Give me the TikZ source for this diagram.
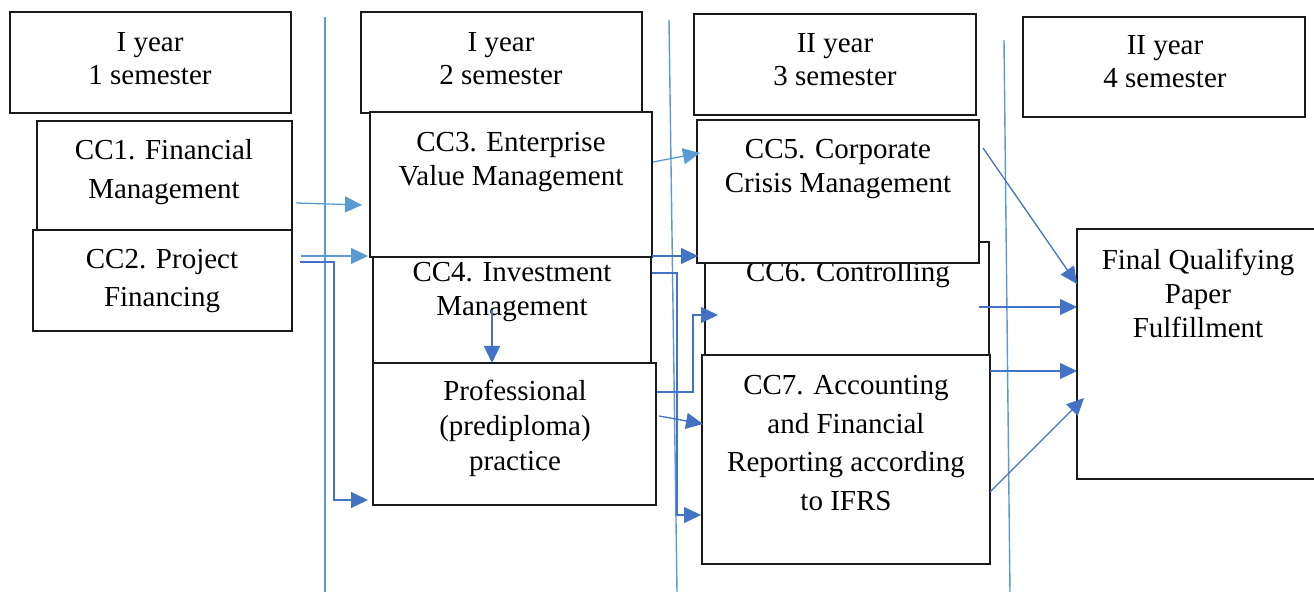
\documentclass[tikz,border=0pt]{standalone}
\usepackage{fontspec}
\setmainfont{Liberation Serif}
\usetikzlibrary{arrows.meta}
\definecolor{lblue}{HTML}{5B9BD5}
\definecolor{dblue}{HTML}{4472C4}
\definecolor{boxline}{HTML}{1A1A1A}
\begin{document}
\begin{tikzpicture}[x=0.5pt,y=-0.5pt,
  box/.style args={#1x#2}{draw=boxline, line width=0.75pt, fill=white, inner sep=0pt, outer sep=0pt,
     minimum width={#1*0.5pt}, minimum height={#2*0.5pt}},
  txt/.style={align=center, inner sep=0pt, font=\fontsize{14.5}{#1}\selectfont},
  vline/.style={draw=lblue, line width=0.7pt},
  larrow/.style={draw=lblue, line width=0.65pt, -{Triangle[length=8.5pt,width=8pt]}},
  darrow/.style={draw=dblue, line width=0.65pt, -{Triangle[length=8.5pt,width=8pt]}}]
\useasboundingbox (0,0) rectangle (1314,592);
\clip (0,0) rectangle (1314,592);
\fill[white] (0,0) rectangle (1314,592);
% headers
\node[box=281x101] (h1) at (150.5,62.5) {};
\node[txt=16.5] (h1t) at (150,59) {I year\\1 semester};
\node[box=281x101] (h2) at (501.5,62.5) {};
\node[txt=16.5] (h2t) at (501,59) {I year\\2 semester};
\node[box=282x101] (h3) at (835,64.5) {};
\node[txt=16.5] (h3t) at (835,60) {II year\\3 semester};
\node[box=282x100] (h4) at (1164,67) {};
\node[txt=16.5] (h4t) at (1165,62) {II year\\4 semester};
% first semester
\node[box=255x110] (cc1) at (164.5,176) {};
\node[txt=19.5] (cc1t) at (164,172) {CC1. Financial\\Management};
\node[box=259x101] (cc2) at (162.5,280.5) {};
\node[txt=19] (cc2t) at (162,281) {CC2. Project\\Financing};
% second semester
\node[box=278x120] (cc4) at (512,317) {};
\node[txt=17] (cc4t) at (512,292) {CC4. Investment\\Management};
\node[box=282x145] (cc3) at (511,184.5) {};
\node[txt=17] (cc3t) at (511,162) {CC3. Enterprise\\Value Management};
\node[box=283x142] (prof) at (514.5,434) {};
\node[txt=17.5] (proft) at (515,428) {Professional\\(prediploma)\\practice};
% third semester
\node[box=284x128] (cc6) at (847,306) {};
\node[txt=17] (cc6t) at (848,275) {CC6. Controlling};
\node[box=282x143] (cc5) at (838,191.5) {};
\node[txt=17] (cc5t) at (838,169) {CC5. Corporate\\Crisis Management};
\node[box=288x209] (cc7) at (846,459.5) {};
\node[txt=19.3] (cc7t) at (846,443) {CC7. Accounting\\and Financial\\Reporting according\\to IFRS};
% final
\node[box=250x250] (fin) at (1202,354) {};
\node[txt=17] (fint) at (1198,293) {Final Qualifying\\Paper\\Fulfillment};
% vertical separators
\coordinate (v1a) at (325,17); \coordinate (v1b) at (325,592);
\coordinate (v2a) at (669,20); \coordinate (v2b) at (677,592);
\coordinate (v3a) at (1004,40); \coordinate (v3b) at (1010,592);
\draw[vline] (v1a) -- (v1b);
\draw[vline] (v2a) -- (v2b);
\draw[vline] (v3a) -- (v3b);
% connector end points
\coordinate (a1s) at (296,203); \coordinate (a1e) at (362,205);
\coordinate (a2s) at (301,256); \coordinate (a2e) at (368,256);
\coordinate (a3s) at (300,262); \coordinate (a3e) at (368,500);
\coordinate (a4s) at (653,162); \coordinate (a4e) at (700,153);
\coordinate (a5s) at (652,256); \coordinate (a5e) at (698,256);
\coordinate (a6s) at (652,273); \coordinate (a6e) at (701,515);
\coordinate (a7s) at (492,310); \coordinate (a7e) at (492,363);
\coordinate (a8s) at (657,392); \coordinate (a8e) at (718,315);
\coordinate (a9s) at (659,416); \coordinate (a9e) at (703,424);
\coordinate (a10s) at (983,148); \coordinate (a10e) at (1077,284);
\coordinate (a11s) at (979,307); \coordinate (a11e) at (1077,307);
\coordinate (a12s) at (990,371); \coordinate (a12e) at (1077,371);
\coordinate (a13s) at (990,492); \coordinate (a13e) at (1084,398);
% connectors
\draw[larrow] (a1s) -- (a1e);
\draw[larrow] (a2s) -- (a2e);
\draw[darrow] (a3s) -- (334,262) -- (334,500) -- (a3e);
\draw[larrow] (a4s) -- (a4e);
\draw[darrow] (a5s) -- (a5e);
\draw[darrow] (a6s) -- (677,273) -- (677,515) -- (a6e);
\draw[darrow] (a7s) -- (a7e);
\draw[darrow] (a8s) -- (693,392) -- (693,315) -- (a8e);
\draw[darrow] (a9s) -- (a9e);
\draw[darrow] (a10s) -- (a10e);
\draw[darrow] (a11s) -- (a11e);
\draw[darrow] (a12s) -- (a12e);
\draw[darrow] (a13s) -- (a13e);
\end{tikzpicture}
\end{document}
